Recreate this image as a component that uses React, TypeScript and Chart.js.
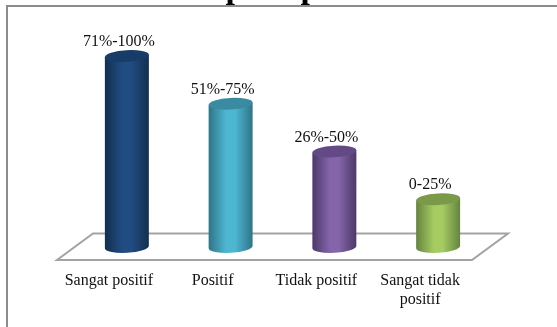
import { useEffect, useRef } from "react";
import { Chart, registerables } from "chart.js";

Chart.register(...registerables);

const categories = ["Sangat positif", "Positif", "Tidak positif", ["Sangat tidak", "positif"]];
const rangeLabels = ["71%-100%", "51%-75%", "26%-50%", "0-25%"];
const seriesValues = [100, 75, 50, 25];
const edgeColors = ["#12304f", "#2f7487", "#4c3869", "#648440"];
const midColors = ["#214c82", "#4db7d2", "#8565aa", "#a5cb61"];
const capColors = ["#173c68", "#3a8ba1", "#634a86", "#7a9a4a"];
const SERIF = "'Liberation Serif', serif";
const GREY = "#a3a3a3";

// Frame, clipped heading glyphs and the perspective floor, all behind the columns.
const backdrop = {
  id: "backdrop",
  beforeDatasetsDraw(chart: any) {
    const { ctx, chartArea: a } = chart;
    ctx.save();
    ctx.strokeStyle = "#8c8c8c";
    ctx.lineWidth = 2;
    ctx.beginPath();
    ctx.moveTo(7, 330);
    ctx.lineTo(7, 6);
    ctx.lineTo(560, 6);
    ctx.stroke();

    ctx.fillStyle = "#000";
    ctx.font = `bold 34px ${SERIF}`;
    ctx.textAlign = "center";
    ctx.textBaseline = "alphabetic";
    ctx.fillText("p", 235, -2);
    ctx.fillText("p", 310, -2);

    ctx.strokeStyle = GREY;
    ctx.lineWidth = 2;
    ctx.lineJoin = "miter";
    ctx.beginPath();
    ctx.moveTo(a.left + 18, a.bottom - 13.5);
    ctx.lineTo(a.right + 18, a.bottom - 13.5);
    ctx.lineTo(a.right - 18, a.bottom + 13);
    ctx.lineTo(a.left - 18, a.bottom + 13);
    ctx.closePath();
    ctx.stroke();
    ctx.restore();
  },
};

// Each bar element is painted as a slightly tilted cylinder with a text label above it.
const cylinders = {
  id: "cylinders",
  afterDatasetsDraw(chart: any) {
    const { ctx } = chart;
    const tilt = (-3 * Math.PI) / 180;
    chart.getDatasetMeta(0).data.forEach((bar: any, i: number) => {
      const { x, y, base, width } = bar.getProps(["x", "y", "base", "width"], true);
      const rx = width / 2;
      const ry = 5.8;
      const left = x - rx;
      const grad = ctx.createLinearGradient(left, 0, left + width, 0);
      grad.addColorStop(0, edgeColors[i]);
      grad.addColorStop(0.4, midColors[i]);
      grad.addColorStop(0.6, midColors[i]);
      grad.addColorStop(1, edgeColors[i]);
      const dy = Math.sin(tilt) * rx;

      ctx.save();
      ctx.fillStyle = grad;
      ctx.beginPath();
      ctx.moveTo(left, y - dy);
      ctx.lineTo(left, base - dy);
      ctx.ellipse(x, base, rx, ry, tilt, Math.PI, 0, true);
      ctx.lineTo(x + rx, y + dy);
      ctx.closePath();
      ctx.fill();

      ctx.fillStyle = capColors[i];
      ctx.beginPath();
      ctx.ellipse(x, y, rx, ry, tilt, 0, Math.PI * 2);
      ctx.fill();

      ctx.fillStyle = "#111";
      ctx.font = `16px ${SERIF}`;
      ctx.textAlign = "center";
      ctx.textBaseline = "alphabetic";
      ctx.fillText(rangeLabels[i], x - 8, y - 10);
      ctx.restore();
    });
  },
};

export default function App() {
  const ref = useRef<HTMLCanvasElement>(null);
  useEffect(() => {
    const chart = new Chart(ref.current!, {
      type: "bar",
      data: {
        labels: categories as any,
        datasets: [
          {
            data: seriesValues,
            backgroundColor: "transparent",
            categoryPercentage: 1,
            barPercentage: 0.424,
          },
        ],
      },
      options: {
        animation: false,
        responsive: false,
        layout: { padding: { top: 56, left: 75, right: 67, bottom: -6.4 } },
        plugins: { legend: { display: false }, tooltip: { enabled: false } },
        scales: {
          x: {
            grid: { display: false, drawTicks: false },
            border: { display: false },
            ticks: {
              color: "#111",
              font: { family: SERIF, size: 16 },
              padding: 24,
              labelOffset: -18,
              maxRotation: 0,
              autoSkip: false,
            },
          },
          y: { display: false, min: 0, max: 100 },
        },
      },
      plugins: [backdrop, cylinders],
    });
    return () => chart.destroy();
  }, []);
  return (
    <canvas
      ref={ref}
      width={557}
      height={327}
      style={{ position: "fixed", left: 0, top: 0, width: 557, height: 327, background: "#fff" }}
    />
  );
}
